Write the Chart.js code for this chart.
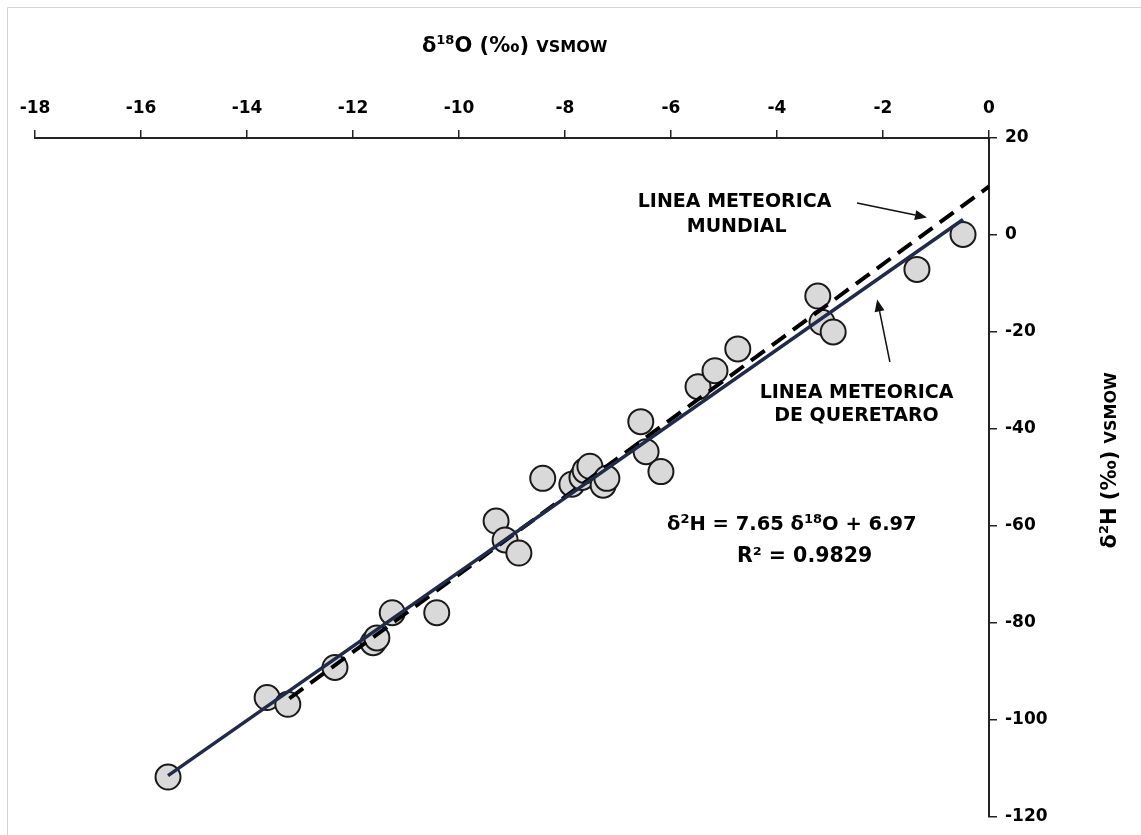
<!DOCTYPE html>
<html>
<head>
<meta charset="utf-8">
<script src="https://cdn.jsdelivr.net/npm/chart.js@4/dist/chart.umd.min.js"></script>
<style>
html,body{margin:0;padding:0;background:#fff;}
#wrap{width:1141px;height:835px;}
</style>
</head>
<body>
<div id="wrap"><canvas id="c" width="1141" height="835"></canvas></div>
<script>
// Data
const d18O = [-15.49,-13.62,-13.23,-12.34,-11.62,-11.55,-11.26,-10.42,-9.30,-9.13,-8.87,-8.42,-7.87,-7.68,-7.62,-7.53,-7.28,-7.21,-6.57,-6.47,-6.19,-5.49,-5.17,-4.74,-3.23,-3.15,-2.94,-1.36,-0.49];
const d2H  = [-111.8,-95.4,-96.8,-89.2,-84.1,-83.1,-77.9,-77.9,-59.0,-62.9,-65.6,-50.2,-51.4,-50.0,-48.6,-47.7,-51.6,-50.2,-38.5,-44.7,-48.8,-31.3,-28.0,-23.5,-12.6,-18.0,-20.0,-7.1,0.1];
// Local meteoric line (Querétaro) end points
const lmwlX = [-15.49, -0.49];
const lmwlY = [-111.5, 3.2];
// Global meteoric line end points
const gmwlX = [-13.2, 0];
const gmwlY = [-95.6, 10];
const xTickLabels = [-18,-16,-14,-12,-10,-8,-6,-4,-2,0];
const yTickLabels = [-120,-100,-80,-60,-40,-20,0,20];

const pts = d18O.map((x,i)=>({x:x,y:d2H[i]}));
const lmwl = lmwlX.map((x,i)=>({x:x,y:lmwlY[i]}));
const gmwl = gmwlX.map((x,i)=>({x:x,y:gmwlY[i]}));

const WIDE = "'DejaVu Sans','Verdana',sans-serif";

function drawRich(ctx, segs, x, y, align){
  let total = 0;
  segs.forEach(s=>{ctx.font = 'bold ' + s.size + 'px ' + WIDE; s.w = ctx.measureText(s.t).width; total += s.w;});
  let cx = align==='center' ? x - total/2 : x;
  ctx.textBaseline = 'alphabetic';
  ctx.textAlign = 'left';
  segs.forEach(s=>{
    ctx.font = 'bold ' + s.size + 'px ' + WIDE;
    ctx.fillText(s.t, cx, y - (s.sup ? s.sup : 0));
    cx += s.w;
  });
}

function arrow(ctx, x1,y1,x2,y2){
  ctx.save();
  ctx.strokeStyle = '#111'; ctx.fillStyle='#111'; ctx.lineWidth = 1.5;
  const a = Math.atan2(y2-y1, x2-x1);
  const hl = 12, hw = 5;
  const bx = x2 - hl*Math.cos(a), by = y2 - hl*Math.sin(a);
  ctx.beginPath(); ctx.moveTo(x1,y1); ctx.lineTo(bx,by); ctx.stroke();
  ctx.beginPath();
  ctx.moveTo(x2,y2);
  ctx.lineTo(bx + hw*Math.sin(a), by - hw*Math.cos(a));
  ctx.lineTo(bx - hw*Math.sin(a), by + hw*Math.cos(a));
  ctx.closePath(); ctx.fill();
  ctx.restore();
}

const framePlugin = {
  id:'frame',
  beforeDraw(chart){
    const ctx = chart.ctx;
    ctx.save();
    ctx.strokeStyle = '#d4d4d4'; ctx.lineWidth = 1;
    ctx.beginPath();
    ctx.moveTo(7.5, 900); ctx.lineTo(7.5, 7.5); ctx.lineTo(1200, 7.5);
    ctx.stroke();
    ctx.restore();
  }
};

const textPlugin = {
  id:'texts',
  afterDraw(chart){
    const ctx = chart.ctx;
    const xs = chart.scales.x, ys = chart.scales.y;
    const X = v=>xs.getPixelForValue(v), Y = v=>ys.getPixelForValue(v);
    ctx.save();
    ctx.fillStyle = '#000';
    // X axis title
    drawRich(ctx, [
      {t:'δ', size:21},
      {t:'18', size:13, sup:8},
      {t:'O (‰) ', size:21},
      {t:'VSMOW', size:16}
    ], X(-8.95), 52, 'center');
    // Y axis title (rotated)
    ctx.save();
    ctx.translate(1116, Y(-46.5));
    ctx.rotate(-Math.PI/2);
    drawRich(ctx, [
      {t:'δ', size:21},
      {t:'2', size:13, sup:8},
      {t:'H (‰) ', size:21},
      {t:'VSMOW', size:16}
    ], 0, 0, 'center');
    ctx.restore();
    // Annotations
    ctx.font = 'bold 19px ' + WIDE;
    ctx.textAlign = 'center'; ctx.textBaseline='middle';
    ctx.fillText('LINEA METEORICA', X(-4.8), Y(6.8));
    ctx.fillText('MUNDIAL', X(-4.76), Y(1.7));
    ctx.fillText('LINEA METEORICA', X(-2.5), Y(-32.6));
    ctx.fillText('DE QUERETARO', X(-2.5), Y(-37.4));
    arrow(ctx, X(-2.49), Y(6.6), X(-1.17), Y(3.6));
    arrow(ctx, X(-1.87), Y(-26.2), X(-2.11), Y(-13.3));
    // Equation
    drawRich(ctx, [
      {t:'δ', size:19.5},
      {t:'2', size:13, sup:7},
      {t:'H = 7.65 δ', size:19.5},
      {t:'18', size:13, sup:7},
      {t:'O + 6.97', size:19.5}
    ], X(-3.72), Y(-60.8), 'center');
    drawRich(ctx, [{t:'R² = 0.9829', size:20.5}], X(-3.48), Y(-67.5), 'center');
    ctx.restore();
  }
};

new Chart(document.getElementById('c'), {
  type:'scatter',
  data:{datasets:[
    {label:'LMWL', type:'line', data:lmwl, borderColor:'#1f2b48', borderWidth:3.5, pointRadius:0, fill:false, order:1},
    {label:'GMWL', type:'line', data:gmwl, borderColor:'#000', borderWidth:4, borderDash:[17,9], pointRadius:0, fill:false, order:2},
    {label:'Muestras', data:pts, backgroundColor:'#d9d9d9', borderColor:'#1a1a1a', borderWidth:2, pointRadius:12.5, pointHoverRadius:12.5, order:3}
  ]},
  options:{
    responsive:false, animation:false, devicePixelRatio:1,
    layout:{padding:{left:35, top:0, right:0, bottom:15}},
    plugins:{legend:{display:false}, tooltip:{enabled:false}},
    scales:{
      x:{type:'linear', position:'top', min:-18, max:0,
        afterBuildTicks(s){ s.ticks = xTickLabels.map(v=>({value:v})); },
        afterFit(s){ s.height = 138; },
        ticks:{color:'#000', padding:11, maxRotation:0, font:{family:WIDE, size:17, weight:'bold'}},
        grid:{drawOnChartArea:false, drawTicks:true, tickLength:8, color:'#222', lineWidth:1.5},
        border:{display:true, color:'#222', width:2}
      },
      y:{type:'linear', position:'right', min:-120, max:20,
        afterBuildTicks(s){ s.ticks = yTickLabels.map(v=>({value:v})); },
        afterFit(s){ s.width = 152; },
        ticks:{color:'#000', padding:8, font:{family:WIDE, size:17, weight:'bold'}},
        grid:{drawOnChartArea:false, drawTicks:true, tickLength:8, color:'#222', lineWidth:1.5},
        border:{display:true, color:'#222', width:2}
      }
    }
  },
  plugins:[framePlugin, textPlugin]
});
</script>
</body>
</html>
